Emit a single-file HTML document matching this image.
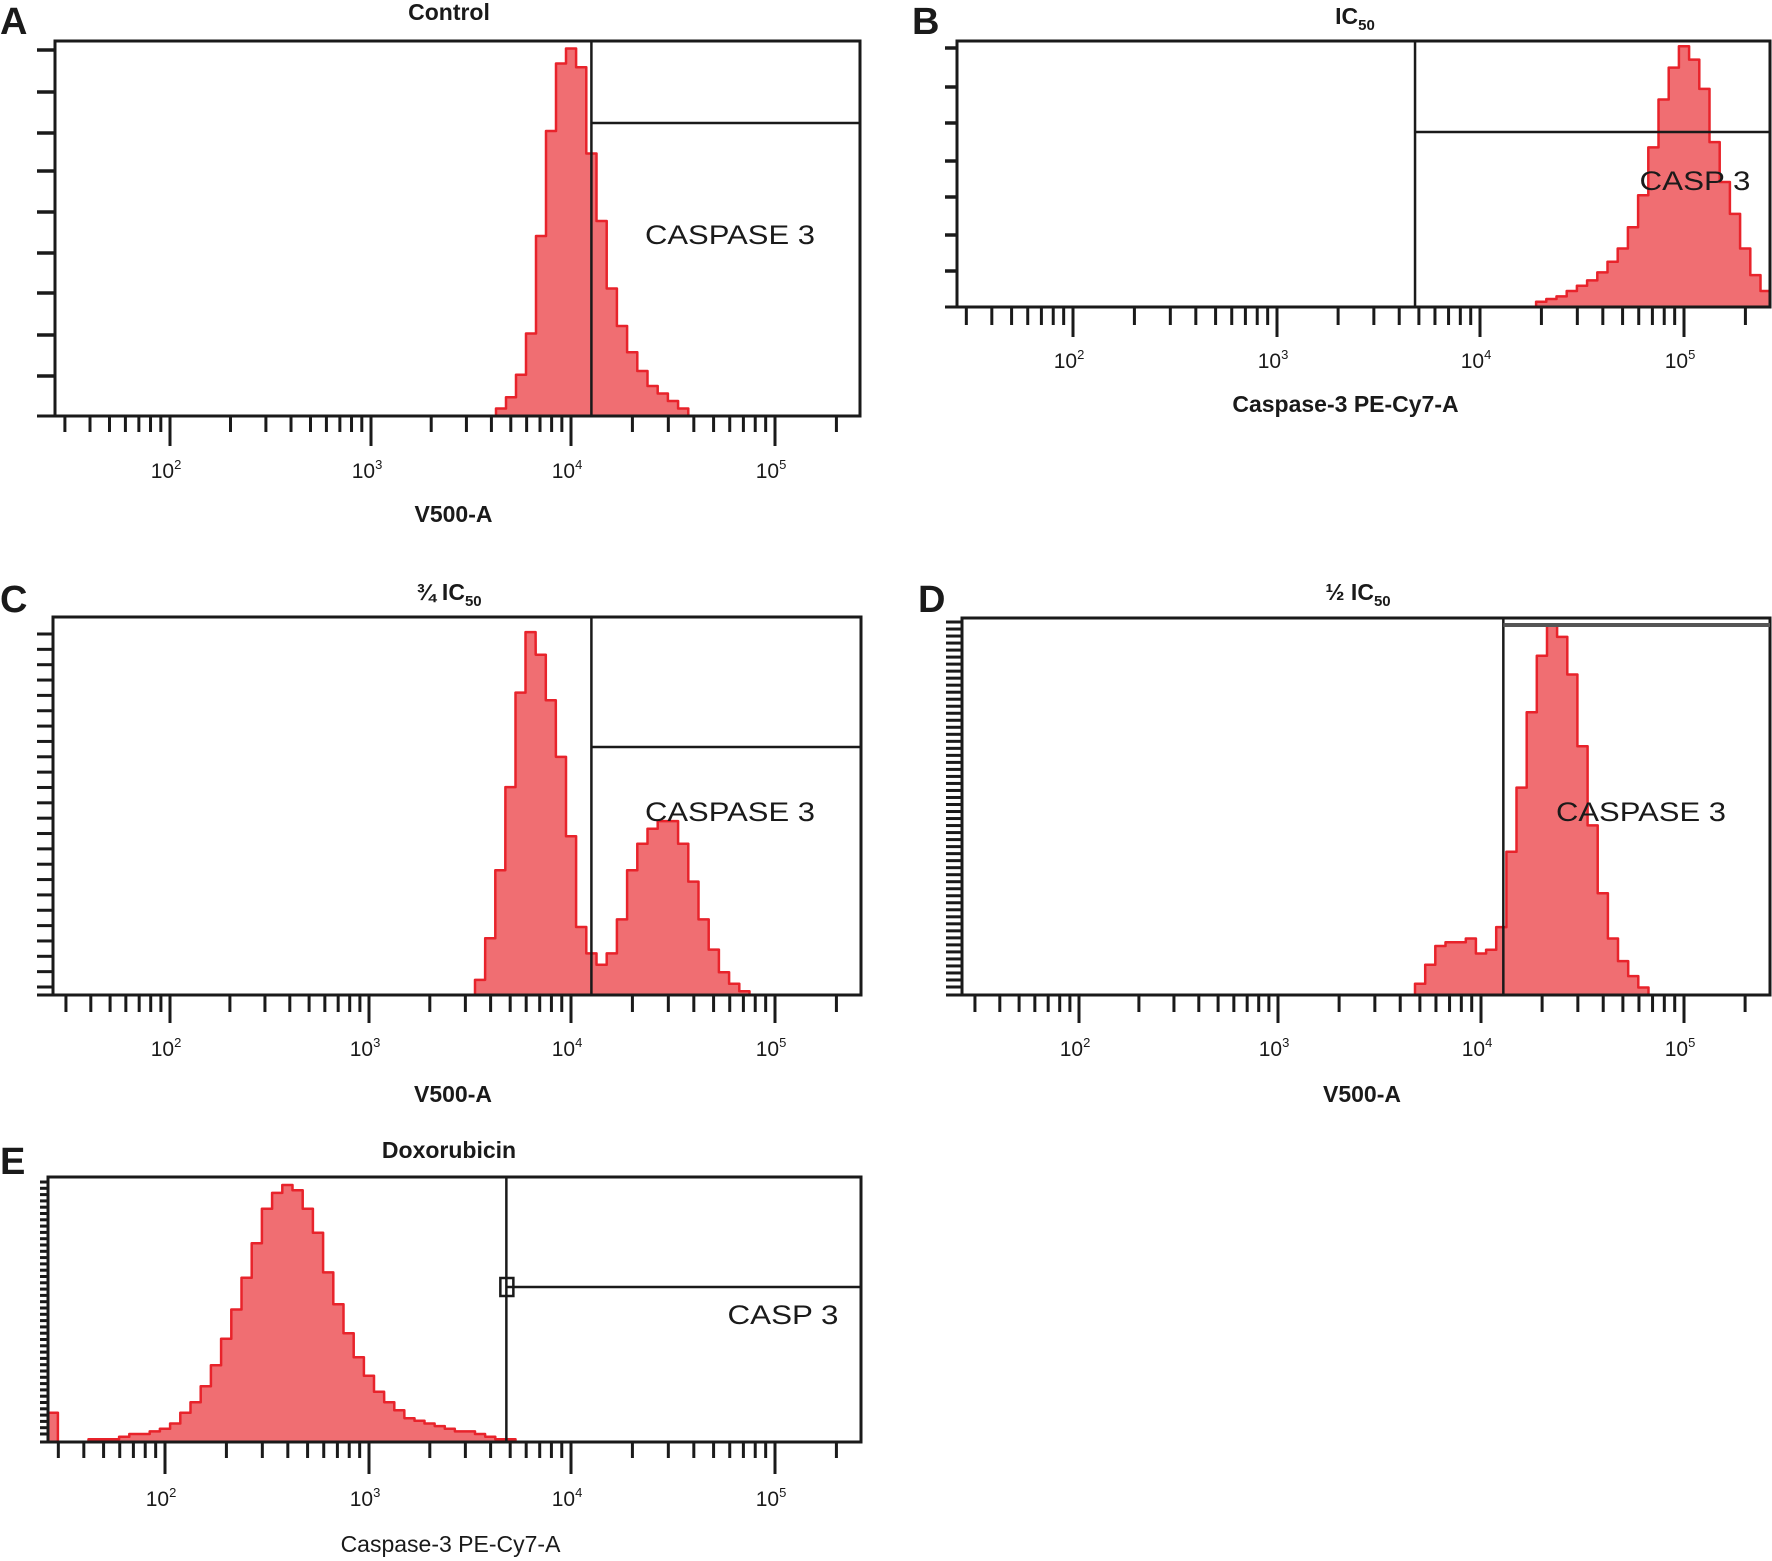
<!DOCTYPE html>
<html><head><meta charset="utf-8"><style>
html,body{margin:0;padding:0;background:#fff;}
svg{display:block;}
text{font-family:"Liberation Sans",sans-serif;fill:#1a1a1a;}
</style></head><body>
<svg id="fig" width="1772" height="1561" viewBox="0 0 1772 1561" xmlns="http://www.w3.org/2000/svg"></svg>
<script>
// ---- data: histogram bins (log10 of fluorescence) and relative counts (% of box height)
const binStep = 0.05;
const aStart = 3.60;
const aCounts = [0,2,5,11,22,48,76,94,98,93,70,52,34,24,17,12,8,6,4,2,0];
const bStart = 4.25;
const bCounts = [0,2,3,4,6,8,10,13,17,22,30,42,60,78,90,98,93,82,62,47,35,22,12,6];
const cStart = 3.50;
const cCounts = [0,4,15,33,55,80,96,90,78,63,42,18,11,8,11,20,33,40,44,46,46,40,30,20,12,6,3,1,0];
const dStart = 3.65;
const dCounts = [0,3,8,13,14,14,15,11,12,18,38,55,75,90,98,95,85,66,45,27,15,9,5,2,0];
const eStart = 1.40;
const eCounts = [11,11,0,0,0,1,1,1,2,3,3,4,5,7,11,15,21,29,39,50,62,75,88,94,97,95,88,79,64,52,41,32,25,19,15,12,9,8,7,6,5,4,4,3,2,1,1,0];
const decadeLabels = ["2","3","4","5"];
const aGateLog = 4.10, cGateLog = 4.10, dGateLog = 4.11, bGateLog = 3.68, eGateLog = 3.68;

const NS = "http://www.w3.org/2000/svg";
const svg = document.getElementById("fig");
function el(tag, attrs, parent){
  const e = document.createElementNS(NS, tag);
  for (const k in attrs) e.setAttribute(k, attrs[k]);
  (parent||svg).appendChild(e);
  return e;
}

const panels = [
 {id:"a", letter:"A", lx:0, ly:34, title:"Control", sub:"", tx:449, ty:20, L:55, R:860, T:41, B:416,
  dec:[170,371,571,775], start:aStart, counts:aCounts, gate:aGateLog, hy:123, yt:[50,92,133,171,212,253,293,335,376], ytx:37,
  label:"CASPASE 3", lab:[730,234,170], xtitle:"V500-A", xtb:true, xty:522, dl:478, tMin:432, tMaj:446},
 {id:"b", letter:"B", lx:912, ly:34, title:"IC", sub:"50", tx:1355, ty:24, L:957, R:1770, T:41, B:307,
  dec:[1073,1277,1480,1684], start:bStart, counts:bCounts, gate:bGateLog, hy:132, yt:[48,87,123,161,197,235,271], ytx:945,
  label:"CASP 3", lab:[1695,180,111], xtitle:"Caspase-3 PE-Cy7-A", xtb:true, xty:412, dl:368, tMin:325, tMaj:337},
 {id:"c", letter:"C", lx:0, ly:612, title:"¾ IC", sub:"50", tx:449, ty:600, L:53, R:861, T:617, B:995,
  dec:[170,369,571,775], start:cStart, counts:cCounts, gate:cGateLog, hy:747, yt:null, ytn:24, yt0:634, ytx:37,
  label:"CASPASE 3", lab:[730,811,170], xtitle:"V500-A", xtb:true, xty:1102, dl:1056, tMin:1012, tMaj:1023},
 {id:"d", letter:"D", lx:918, ly:612, title:"½ IC", sub:"50", tx:1358, ty:600, L:962, R:1770, T:618, B:995,
  dec:[1079,1278,1481,1684], start:dStart, counts:dCounts, gate:dGateLog, hy:625, yt:null, ytn:53, yt0:622, ytx:946,
  label:"CASPASE 3", lab:[1641,811,170], xtitle:"V500-A", xtb:true, xty:1102, dl:1056, tMin:1012, tMaj:1023},
 {id:"e", letter:"E", lx:0, ly:1174, title:"Doxorubicin", sub:"", tx:449, ty:1158, L:48, R:861, T:1177, B:1442,
  dec:[165,369,571,775], start:eStart, counts:eCounts, gate:eGateLog, hy:1287, yt:null, ytn:41, yt0:1182, ytx:40,
  label:"CASP 3", lab:[783,1314,111], xtitle:"Caspase-3 PE-Cy7-A", xtb:false, xty:1552, dl:1506, tMin:1458, tMaj:1474}
];

panels.forEach(p => {
  const g = el("g", {});
  
  
  const xs = lv => {
    const d = p.dec;
    if (lv <= 2) return d[0] + (lv-2)*(d[1]-d[0]);
    if (lv >= 5) return d[3] + (lv-5)*(d[3]-d[2]);
    const i = Math.floor(lv) - 2;
    return d[i] + (lv - Math.floor(lv))*(d[i+1]-d[i]);
  };
  const ys = c => p.B - c/100*(p.B - p.T);

  const lt = el("text", {x:p.lx, y:p.ly, "font-size":38, "font-weight":"bold"}, g);
  lt.textContent = p.letter;
  
  
  const tt = el("text", {x:p.tx, y:p.ty, "font-size":23, "font-weight":"bold", "text-anchor":"middle"}, g);
  tt.textContent = p.title;
  if (p.sub){ const s = el("tspan", {"font-size":15, dy:6}, tt); s.textContent = p.sub; }
  
  

  const clipId = "clip-" + p.id;
  const cp = el("clipPath", {id:clipId}, g);
  el("rect", {x:p.L, y:p.T, width:p.R-p.L, height:p.B-p.T}, cp);
  let d = "M" + xs(p.start - binStep/2) + "," + p.B;
  p.counts.forEach((c, i) => {
    const lv = p.start + i*binStep;
    const x0 = xs(lv - binStep/2), x1 = xs(lv + binStep/2), y = ys(c);
    d += " L" + x0.toFixed(1) + "," + y.toFixed(1) + " L" + x1.toFixed(1) + "," + y.toFixed(1);
  });
  d += " L" + xs(p.start + (p.counts.length-0.5)*binStep).toFixed(1) + "," + p.B + " Z";
  const hist = el("path", {d:d, fill:"#f06e72", stroke:"#e8232b", "stroke-width":2.5, "stroke-linejoin":"round", "clip-path":"url(#"+clipId+")"}, g);
  
  

  const box = el("rect", {x:p.L, y:p.T, width:p.R-p.L, height:p.B-p.T, fill:"none", stroke:"#1a1a1a", "stroke-width":3}, g);
  
  
  el("line", {x1:p.ytx, x2:p.L, y1:p.B, y2:p.B, stroke:"#1a1a1a", "stroke-width":3}, g);

  const gx = xs(p.gate);
  const gl = el("line", {x1:gx, x2:gx, y1:p.T, y2:p.B, stroke:"#1a1a1a", "stroke-width":2.5}, g);
  
  
  const gh = el("line", {x1:gx, x2:p.R, y1:p.hy, y2:p.hy, stroke:p.id==="d"?"#555":"#1a1a1a", "stroke-width":p.id==="d"?4:2.5}, g);
  
  
  if (p.id === "e"){
    const sq = el("rect", {x:gx-6, y:p.hy-9, width:13, height:18, fill:"none", stroke:"#1a1a1a", "stroke-width":2.5}, g);
    
    
  }
  const gt = el("text", {x:p.lab[0], y:p.lab[1]+10, "font-size":27, "text-anchor":"middle", textLength:p.lab[2], lengthAdjust:"spacingAndGlyphs"}, g);
  gt.textContent = p.label;
  
  

  let yt = p.yt;
  if (!yt){ yt = []; const sp = (p.B - 8 - p.yt0)/(p.ytn-1); for (let i=0;i<p.ytn;i++) yt.push(p.yt0 + i*sp); }
  yt.forEach(y => el("line", {x1:p.ytx, x2:p.L, y1:y, y2:y, stroke:"#1a1a1a", "stroke-width":p.yt? 3.5: 3}, g));

  for (let dec=1; dec<=5; dec++){
    for (let m=(dec===1?3:2); m<=9; m++){
      const lv = dec + Math.log10(m);
      if (dec===5 && m>2) break;
      const x = xs(lv);
      el("line", {x1:x, x2:x, y1:p.B, y2:p.tMin, stroke:"#1a1a1a", "stroke-width":3}, g);
    }
  }
  p.dec.forEach((x, i) => {
    el("line", {x1:x, x2:x, y1:p.B, y2:p.tMaj, stroke:"#1a1a1a", "stroke-width":3}, g);
    const t = el("text", {x:x-4, y:p.dl, "font-size":21, "text-anchor":"middle"}, g);
    t.textContent = "10";
    const s = el("tspan", {"font-size":13, dy:-9}, t); s.textContent = decadeLabels[i];
    
    
  });
  const xt = el("text", {x:(p.L+p.R)/2 - 4 + (p.id==="b"?-14:0), y:p.xty, "font-size":23, "font-weight":p.xtb?"bold":"normal", "text-anchor":"middle"}, g);
  xt.textContent = p.xtitle;
  
  
});
</script>
</body></html>
